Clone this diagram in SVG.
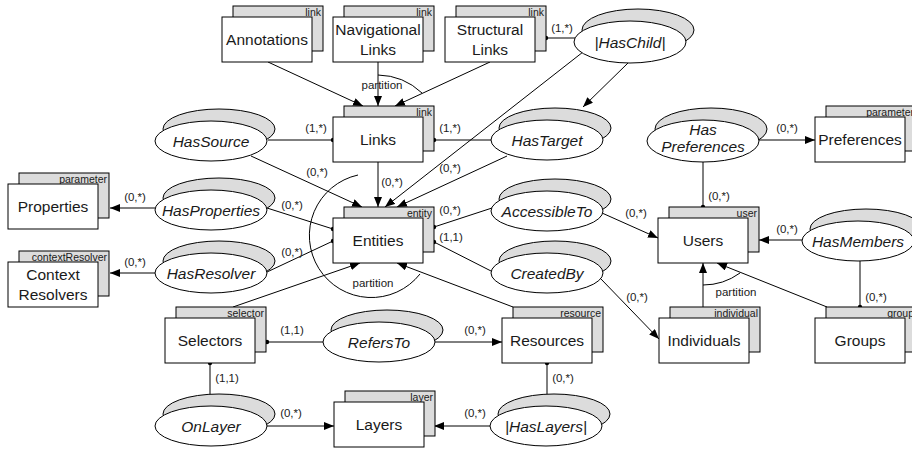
<svg xmlns="http://www.w3.org/2000/svg" width="912" height="449" viewBox="0 0 912 449">
<defs>
<style>
.back{fill:#dcdcdc;stroke:#000;stroke-width:1}
.front{fill:#fff;stroke:#000;stroke-width:1}
.t{font-family:"Liberation Sans",Arial,sans-serif;font-size:15.5px;text-anchor:middle;fill:#1a1a1a}
.i{font-style:italic}
.tag{font-family:"Liberation Sans",Arial,sans-serif;font-size:10.5px;text-anchor:end;fill:#1a1a1a}
.lb{font-family:"Liberation Sans",Arial,sans-serif;font-size:11.5px;text-anchor:middle;fill:#1a1a1a}
.c{fill:none;stroke:#000;stroke-width:1}
.a{marker-end:url(#arr)}
.ds{marker-start:url(#dot)}
.de{marker-end:url(#dot)}
</style>
<marker id="arr" markerWidth="10" markerHeight="8" refX="10" refY="4" orient="auto" markerUnits="userSpaceOnUse"><path d="M0,0 L10,4 L0,8 z" fill="#000"/></marker>
<marker id="dot" markerWidth="6" markerHeight="6" refX="3" refY="3" markerUnits="userSpaceOnUse"><circle cx="3" cy="3" r="2.2" fill="#000"/></marker>
</defs>
<rect width="912" height="449" fill="#fff"/>

<g id="connectors">
<path class="c a" d="M268,62 L363,106"/>
<path class="c a" d="M378,62 L378,106"/>
<path class="c a" d="M490,62 L395,106"/>
<path class="c" d="M378,75 A66,66 0 0 1 422,93"/>
<text class="lb" x="382" y="89">partition</text>
<path class="c ds" d="M546,38 L575,38"/>
<text class="lb" x="562" y="32">(1,*)</text>
<path class="c a" d="M628,63 L583,107"/>
<path class="c a" d="M583,52 L385,207"/>
<path class="c de" d="M268,140 L333,140"/>
<text class="lb" x="316" y="132">(1,*)</text>
<path class="c de" d="M491,140 L434,140"/>
<text class="lb" x="450" y="132">(1,*)</text>
<path class="c a" d="M251,156 L362,207"/>
<text class="lb" x="317" y="175.5">(0,*)</text>
<path class="c a" d="M378,162 L378,207"/>
<text class="lb" x="392" y="185.5">(0,*)</text>
<path class="c a" d="M507,156 L397,207"/>
<text class="lb" x="450" y="172">(0,*)</text>
<path class="c a" d="M155,208 L110,208"/>
<text class="lb" x="135" y="200.5">(0,*)</text>
<path class="c de" d="M267,208 L333,229"/>
<text class="lb" x="292" y="209">(0,*)</text>
<path class="c a" d="M155,273 L110,273"/>
<text class="lb" x="135" y="266">(0,*)</text>
<path class="c de" d="M267,272 L333,241"/>
<text class="lb" x="292" y="255.5">(0,*)</text>
<path class="c a" d="M233,307 L360,263"/>
<path class="c a" d="M513,307 L397,263"/>
<path class="c" d="M358,175 A62,62 0 1 0 420,274"/>
<text class="lb" x="373" y="287">partition</text>
<path class="c ds" d="M434,227 L492,208"/>
<text class="lb" x="450" y="214">(0,*)</text>
<path class="c ds" d="M434,242 L493,272"/>
<text class="lb" x="451" y="240.5">(1,1)</text>
<path class="c a" d="M602,213 L658,238"/>
<text class="lb" x="636" y="217">(0,*)</text>
<path class="c a" d="M601,279 L659,339"/>
<text class="lb" x="637" y="300.5">(0,*)</text>
<path class="c a" d="M759,140 L815,140"/>
<text class="lb" x="787" y="132">(0,*)</text>
<path class="c de" d="M703,162 L703,207"/>
<text class="lb" x="719" y="200">(0,*)</text>
<path class="c a" d="M802,240 L759,240"/>
<text class="lb" x="787" y="233">(0,*)</text>
<path class="c de" d="M860,261 L860,307"/>
<text class="lb" x="876" y="300.5">(0,*)</text>
<path class="c a" d="M703,307 L703,263"/>
<path class="c a" d="M827,307 L717,263"/>
<path class="c" d="M703,285 A63,63 0 0 0 740,273"/>
<text class="lb" x="736" y="295.5">partition</text>
<path class="c ds" d="M267,342 L323,342"/>
<text class="lb" x="292" y="334">(1,1)</text>
<path class="c a" d="M435,342 L502,342"/>
<text class="lb" x="475" y="334">(0,*)</text>
<path class="c ds" d="M210,363 L210,394"/>
<text class="lb" x="227" y="382">(1,1)</text>
<path class="c a" d="M267,426 L334,426"/>
<text class="lb" x="291" y="417">(0,*)</text>
<path class="c a" d="M490,426 L434,426"/>
<text class="lb" x="475" y="417">(0,*)</text>
<path class="c ds" d="M547,363 L547,394"/>
<text class="lb" x="563" y="382">(0,*)</text>
</g>

<g id="annotations"><rect class="back" x="233" y="6" width="90" height="45"/><text class="tag" x="321" y="15.5">link</text><rect class="front" x="222" y="17" width="90" height="45"/><text class="t" x="267" y="45">Annotations</text></g>
<g id="navigational-links"><rect class="back" x="344" y="6" width="90" height="45"/><text class="tag" x="432" y="15.5">link</text><rect class="front" x="333" y="17" width="90" height="45"/><text class="t" x="378" y="35">Navigational</text><text class="t" x="378" y="55">Links</text></g>
<g id="structural-links"><rect class="back" x="456" y="6" width="90" height="45"/><text class="tag" x="544" y="15.5">link</text><rect class="front" x="445" y="17" width="90" height="45"/><text class="t" x="490" y="35">Structural</text><text class="t" x="490" y="55">Links</text></g>
<g id="links"><rect class="back" x="344" y="106" width="90" height="45"/><text class="tag" x="432" y="115.5">link</text><rect class="front" x="333" y="117" width="90" height="45"/><text class="t" x="378" y="145">Links</text></g>
<g id="entities"><rect class="back" x="344" y="207" width="90" height="45"/><text class="tag" x="432" y="216.5">entity</text><rect class="front" x="333" y="218" width="90" height="45"/><text class="t" x="378" y="246">Entities</text></g>
<g id="users"><rect class="back" x="669" y="207" width="90" height="45"/><text class="tag" x="757" y="216.5">user</text><rect class="front" x="658" y="218" width="90" height="45"/><text class="t" x="703" y="246">Users</text></g>
<g id="preferences"><rect class="back" x="826" y="106" width="90" height="45"/><text class="tag" x="914" y="115.5">parameter</text><rect class="front" x="815" y="117" width="90" height="45"/><text class="t" x="860" y="145">Preferences</text></g>
<g id="properties"><rect class="back" x="19" y="173" width="90" height="45"/><text class="tag" x="107" y="182.5">parameter</text><rect class="front" x="8" y="184" width="90" height="45"/><text class="t" x="53" y="212">Properties</text></g>
<g id="context-resolvers"><rect class="back" x="19" y="251" width="90" height="45"/><text class="tag" x="107" y="260.5">contextResolver</text><rect class="front" x="8" y="262" width="90" height="45"/><text class="t" x="53" y="280">Context</text><text class="t" x="53" y="300">Resolvers</text></g>
<g id="selectors"><rect class="back" x="176" y="307" width="90" height="45"/><text class="tag" x="264" y="316.5">selector</text><rect class="front" x="165" y="318" width="90" height="45"/><text class="t" x="210" y="346">Selectors</text></g>
<g id="resources"><rect class="back" x="513" y="307" width="90" height="45"/><text class="tag" x="601" y="316.5">resource</text><rect class="front" x="502" y="318" width="90" height="45"/><text class="t" x="547" y="346">Resources</text></g>
<g id="layers"><rect class="back" x="345" y="391" width="90" height="45"/><text class="tag" x="433" y="400.5">layer</text><rect class="front" x="334" y="402" width="90" height="45"/><text class="t" x="379" y="430">Layers</text></g>
<g id="individuals"><rect class="back" x="670" y="307" width="90" height="45"/><text class="tag" x="758" y="316.5">individual</text><rect class="front" x="659" y="318" width="90" height="45"/><text class="t" x="704" y="346">Individuals</text></g>
<g id="groups"><rect class="back" x="826" y="307" width="90" height="45"/><text class="tag" x="914" y="316.5">group</text><rect class="front" x="815" y="318" width="90" height="45"/><text class="t" x="860" y="346">Groups</text></g>

<g id="haschild"><ellipse class="back" cx="638" cy="30" rx="56" ry="21"/><ellipse class="front" cx="630" cy="42" rx="56" ry="21"/><text class="t i" x="630" y="47.5">|HasChild|</text></g>
<g id="hassource"><ellipse class="back" cx="219" cy="129" rx="56" ry="20"/><ellipse class="front" cx="211" cy="141" rx="56" ry="20"/><text class="t i" x="211" y="146.5">HasSource</text></g>
<g id="hastarget"><ellipse class="back" cx="555" cy="128" rx="56" ry="20"/><ellipse class="front" cx="547" cy="140" rx="56" ry="20"/><text class="t i" x="547" y="145.5">HasTarget</text></g>
<g id="hasproperties"><ellipse class="back" cx="219" cy="198" rx="56" ry="20"/><ellipse class="front" cx="211" cy="210" rx="56" ry="20"/><text class="t i" x="211" y="215.5">HasProperties</text></g>
<g id="hasresolver"><ellipse class="back" cx="219" cy="261" rx="56" ry="20"/><ellipse class="front" cx="211" cy="273" rx="56" ry="20"/><text class="t i" x="211" y="278.5">HasResolver</text></g>
<g id="accessibleto"><ellipse class="back" cx="555" cy="199" rx="56" ry="20"/><ellipse class="front" cx="547" cy="211" rx="56" ry="20"/><text class="t i" x="547" y="216.5">AccessibleTo</text></g>
<g id="createdby"><ellipse class="back" cx="555" cy="261" rx="56" ry="20"/><ellipse class="front" cx="547" cy="273" rx="56" ry="20"/><text class="t i" x="547" y="278.5">CreatedBy</text></g>
<g id="haspreferences"><ellipse class="back" cx="711" cy="129" rx="56" ry="21"/><ellipse class="front" cx="703" cy="141" rx="56" ry="21"/><text class="t i" x="703" y="134.5">Has</text><text class="t i" x="703" y="152">Preferences</text></g>
<g id="hasmembers"><ellipse class="back" cx="866" cy="229" rx="56" ry="20"/><ellipse class="front" cx="858" cy="241" rx="56" ry="20"/><text class="t i" x="858" y="246.5">HasMembers</text></g>
<g id="refersto"><ellipse class="back" cx="387" cy="330" rx="56" ry="20"/><ellipse class="front" cx="379" cy="342" rx="56" ry="20"/><text class="t i" x="379" y="347.5">RefersTo</text></g>
<g id="onlayer"><ellipse class="back" cx="219" cy="414" rx="56" ry="20"/><ellipse class="front" cx="211" cy="426" rx="56" ry="20"/><text class="t i" x="211" y="431.5">OnLayer</text></g>
<g id="haslayers"><ellipse class="back" cx="554" cy="414" rx="56" ry="20"/><ellipse class="front" cx="546" cy="426" rx="56" ry="20"/><text class="t i" x="546" y="431.5">|HasLayers|</text></g>
</svg>
